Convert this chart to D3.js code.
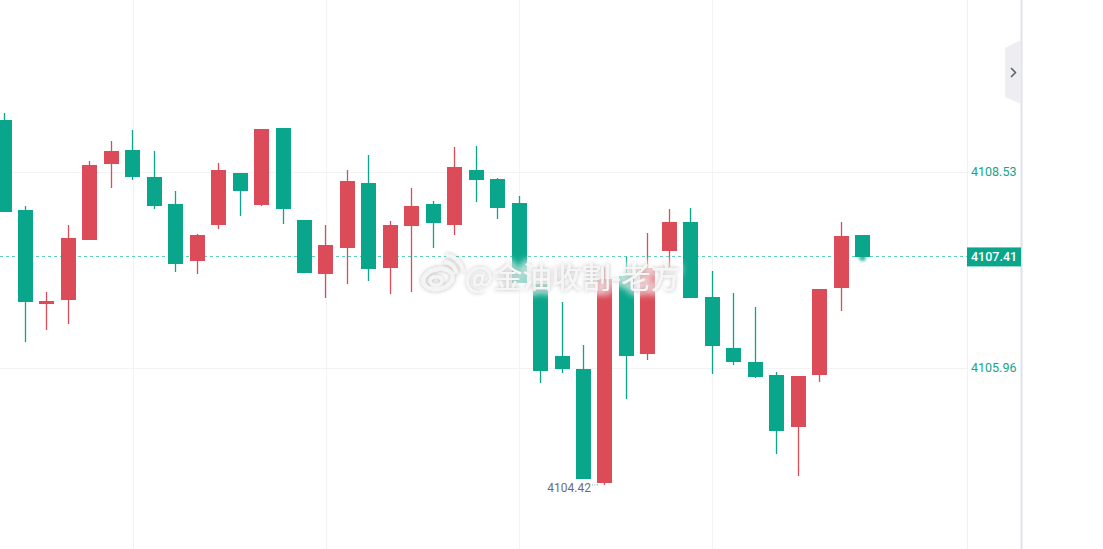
<!DOCTYPE html>
<html>
<head>
<meta charset="utf-8">
<script src="https://cdn.jsdelivr.net/npm/d3@7"></script>
<style>
  html, body { margin: 0; padding: 0; background: #fff; overflow: hidden; }
  svg { display: block; }
</style>
</head>
<body>
<script>
// candles, oldest first (red = up, green = down)
const opens = [4109.21, 4108.03, 4106.80, 4106.85, 4107.64, 4108.64, 4108.82, 4108.46, 4108.11, 4107.36,
  4107.83, 4108.52, 4108.10, 4109.11, 4107.90, 4107.19, 4107.53, 4108.39, 4107.27, 4107.82,
  4108.11, 4107.83, 4108.56, 4108.44, 4108.12, 4107.06, 4106.12, 4105.95, 4104.45, 4107.17,
  4106.14, 4107.49, 4107.87, 4106.89, 4106.22, 4106.04, 4105.87, 4105.18, 4105.87, 4107.01,
  4107.70];
const highs = [4109.30, 4108.08, 4106.95, 4107.83, 4108.67, 4108.94, 4109.08, 4108.81, 4108.28, 4107.72,
  4108.65, 4108.52, 4109.09, 4109.11, 4107.90, 4107.83, 4108.56, 4108.75, 4107.89, 4108.32,
  4108.15, 4108.86, 4108.87, 4108.45, 4108.21, 4107.07, 4106.82, 4106.26, 4107.28, 4107.41,
  4107.73, 4108.04, 4108.06, 4107.23, 4106.94, 4106.76, 4105.91, 4105.85, 4107.00, 4107.87,
  4107.70];
const lows = [4108.01, 4106.30, 4106.46, 4106.54, 4107.64, 4108.32, 4108.42, 4108.04, 4107.22, 4107.19,
  4107.78, 4107.95, 4108.08, 4107.85, 4107.20, 4106.88, 4107.06, 4107.10, 4106.93, 4106.96,
  4107.53, 4107.70, 4108.14, 4107.91, 4107.07, 4105.76, 4105.89, 4104.50, 4104.42, 4105.55,
  4106.06, 4107.28, 4106.88, 4105.88, 4106.00, 4105.83, 4104.83, 4104.54, 4105.77, 4106.71,
  4107.41];
const closes = [4108.01, 4106.82, 4106.84, 4107.66, 4108.62, 4108.81, 4108.46, 4108.08, 4107.32, 4107.70,
  4108.56, 4108.28, 4109.09, 4108.04, 4107.20, 4107.57, 4108.41, 4107.26, 4107.83, 4108.08,
  4107.86, 4108.60, 4108.42, 4108.06, 4107.07, 4105.92, 4105.95, 4104.50, 4107.13, 4106.12,
  4107.27, 4107.87, 4106.88, 4106.25, 4106.04, 4105.84, 4105.14, 4105.85, 4107.00, 4107.69,
  4107.41];

const priceTicks = [4108.53, 4105.96];
const lastPrice = 4107.41;
const watermark = "@金油收割-老方";

const W = 1103, H = 549;
const plotRight = 967, axisRight = 1021;
const UP = "#db4c58", DOWN = "#0aa68b";

const candles = opens.map((o, i) => ({ i, o, h: highs[i], l: lows[i], c: closes[i] }));

const x = d3.scaleLinear().domain([0, candles.length - 1]).range([4, 862.5]);
const y = d3.scaleLinear().domain([priceTicks[1], priceTicks[0]]).range([368, 172]);
const bodyW = 15;

const svg = d3.select("body").append("svg")
  .attr("width", W).attr("height", H);

const defs = svg.append("defs");
const f = defs.append("filter").attr("id", "wm").attr("x", "-20%").attr("y", "-40%")
  .attr("width", "140%").attr("height", "180%");
f.append("feGaussianBlur").attr("in", "SourceAlpha").attr("stdDeviation", 2).attr("result", "b");
f.append("feFlood").attr("flood-color", "#000").attr("flood-opacity", 0.3);
f.append("feComposite").attr("in2", "b").attr("operator", "in").attr("result", "s");
const fm = f.append("feMerge");
fm.append("feMergeNode").attr("in", "s");
fm.append("feMergeNode").attr("in", "SourceGraphic");

const halo = defs.append("filter").attr("id", "halo").attr("x", "-20%").attr("y", "-60%")
  .attr("width", "140%").attr("height", "220%");
halo.append("feGaussianBlur").attr("stdDeviation", 3);

const glow = defs.append("filter").attr("id", "glow").attr("x", "-100%").attr("y", "-100%")
  .attr("width", "300%").attr("height", "300%");
glow.append("feGaussianBlur").attr("stdDeviation", 1.5);

// grid
const gridIdx = candles.filter(d => d.i % 9 === 6).map(d => d.i);
svg.append("g").selectAll("line").data(gridIdx).join("line")
  .attr("x1", d => Math.round(x(d)) + 0.5).attr("x2", d => Math.round(x(d)) + 0.5)
  .attr("y1", 0).attr("y2", H)
  .attr("stroke", "#f2f3f5");
svg.append("g").selectAll("line").data(priceTicks).join("line")
  .attr("x1", 0).attr("x2", plotRight)
  .attr("y1", d => Math.round(y(d)) + 0.5).attr("y2", d => Math.round(y(d)) + 0.5)
  .attr("stroke", "#f2f3f5");

// last price line
const ly = Math.round(y(lastPrice)) - 0.5;
svg.append("line")
  .attr("x1", 0).attr("x2", plotRight).attr("y1", ly).attr("y2", ly)
  .attr("stroke", "#5fd0b8").attr("stroke-dasharray", "3,3");

// candles
const g = svg.append("g");
candles.forEach(d => {
  const left = Math.round(x(d.i) - bodyW / 2);
  const col = d.c >= d.o ? UP : DOWN;
  const top = Math.round(y(Math.max(d.o, d.c)));
  const bot = Math.round(y(Math.min(d.o, d.c)));
  g.append("line")
    .attr("x1", left + 7.5).attr("x2", left + 7.5)
    .attr("y1", Math.round(y(d.h))).attr("y2", Math.round(y(d.l)))
    .attr("stroke", col).attr("stroke-width", 1.3);
  g.append("rect")
    .attr("x", left).attr("y", top)
    .attr("width", bodyW).attr("height", Math.max(2, bot - top))
    .attr("fill", col);
});

// marker on last candle
const lastC = candles[candles.length - 1];
svg.append("circle")
  .attr("cx", Math.round(x(lastC.i) - bodyW / 2) + 7.5).attr("cy", y(lastPrice))
  .attr("r", 3.5).attr("fill", DOWN).attr("opacity", 0.8).attr("filter", "url(#glow)");

// lowest low label
const li = d3.minIndex(candles, d => d.l);
const lowC = candles[li];
const lx = Math.round(x(li) - bodyW / 2);
svg.append("text")
  .attr("x", lx - 6).attr("y", y(lowC.l) + 7)
  .attr("text-anchor", "end")
  .attr("font-family", "Roboto, 'Liberation Sans', sans-serif").attr("font-size", 12)
  .attr("fill", "#6a6d78")
  .text(lowC.l.toFixed(2));
svg.append("line")
  .attr("x1", lx - 5).attr("x2", lx + 2).attr("y1", y(lowC.l) - 0.5).attr("y2", y(lowC.l) - 0.5)
  .attr("stroke", "#9598a1").attr("stroke-dasharray", "1,1.5");

// right price axis
svg.append("line").attr("x1", plotRight + 0.5).attr("x2", plotRight + 0.5)
  .attr("y1", 0).attr("y2", H).attr("stroke", "#f0f1f4");
svg.append("line").attr("x1", axisRight + 0.5).attr("x2", axisRight + 0.5)
  .attr("y1", 0).attr("y2", H).attr("stroke", "#dfe2ea").attr("stroke-width", 2);

svg.append("g").selectAll("text").data(priceTicks).join("text")
  .attr("x", 971).attr("y", d => y(d))
  .attr("dy", "0.35em")
  .attr("font-family", "Roboto, 'Liberation Sans', sans-serif").attr("font-size", 12.5)
  .attr("fill", "#12a58c")
  .text(d => d.toFixed(2));

svg.append("rect")
  .attr("x", plotRight).attr("y", y(lastPrice) - 10)
  .attr("width", axisRight - plotRight).attr("height", 19)
  .attr("fill", DOWN);
svg.append("text")
  .attr("x", 971).attr("y", y(lastPrice) - 0.5).attr("dy", "0.35em")
  .attr("font-family", "Roboto, 'Liberation Sans', sans-serif").attr("font-size", 12.5)
  .attr("font-weight", 500).attr("fill", "#fff")
  .text(lastPrice.toFixed(2));

// collapse tab
svg.append("path")
  .attr("d", "M1005,48 L1021,40 L1021,104 L1005,97 Z")
  .attr("fill", "#ededf2");
svg.append("path")
  .attr("d", "M1011,68 L1015.5,72.5 L1011,77")
  .attr("fill", "none").attr("stroke", "#5d606b").attr("stroke-width", 1.5);

// watermark: white halo, then shadowed glyphs
const wmX = 465, wmY = 288, wmSize = 29.5;
const font = "'Noto Sans CJK SC', sans-serif";
svg.append("text")
  .attr("x", wmX).attr("y", wmY)
  .attr("font-family", font).attr("font-size", wmSize)
  .attr("fill", "#fff").attr("stroke", "#fff").attr("stroke-width", 7)
  .attr("opacity", 0.75).attr("filter", "url(#halo)")
  .text(watermark);
const wm = svg.append("g").attr("filter", "url(#wm)");
const logo = wm.append("g").attr("transform", "translate(438,279)")
  .attr("fill", "none").attr("stroke", "#f4f4f4");
logo.append("ellipse").attr("rx", 15).attr("ry", 10).attr("stroke-width", 4)
  .attr("transform", "rotate(-12)");
logo.append("ellipse").attr("cx", -2).attr("cy", 2).attr("rx", 6).attr("ry", 4.5).attr("stroke-width", 3);
logo.append("path").attr("d", "M6,-17 A12,12 0 0 1 18,-5").attr("stroke-width", 3.5);
logo.append("path").attr("d", "M8,-24 A19,19 0 0 1 25,-7").attr("stroke-width", 3.5);
wm.append("text")
  .attr("x", wmX).attr("y", wmY)
  .attr("font-family", font).attr("font-size", wmSize)
  .attr("fill", "#f6f6f6")
  .text(watermark);
</script>
</body>
</html>
